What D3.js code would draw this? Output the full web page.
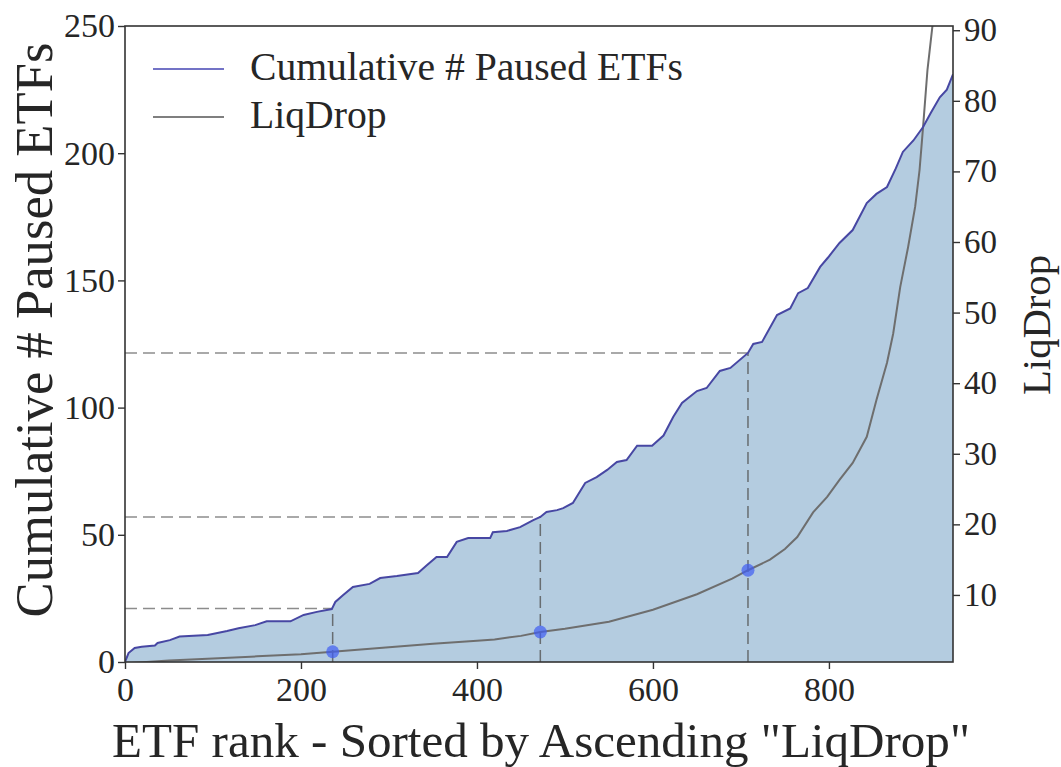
<!DOCTYPE html>
<html><head><meta charset="utf-8">
<script src="https://cdn.jsdelivr.net/npm/d3@7"></script>
<style>
body{margin:0;background:#fff}
text{font-family:"Liberation Serif","DejaVu Serif",serif;fill:#262626}
</style>
</head><body>
<svg id="chart" width="1061" height="767"></svg>
<script>
// ---- data ----
const cumRank = [0,4,11,19,34,37,51,62,94,116,129,148,161,188,203,218,235,239,248,259,278,290,309,333,343,354,366,377,390,415,418,434,449,464,472,479,491,498,509,523,536,548,559,570,582,599,612,623,633,650,661,676,688,708,714,724,741,756,765,776,790,799,812,827,843,854,866,876,884,896,907,916,926,934,941];
const cumPaused = [0,3.5,5.5,6,6.5,7.5,8.6,10,10.6,12.2,13.3,14.5,16,16,18.5,19.7,20.8,23.6,26.3,29.5,30.7,33,33.8,35,38,41.3,41.3,47.2,48.7,48.7,51,51.5,53,55.8,57,59,59.7,60.5,62.5,70.4,72.7,75.5,78.6,79.4,85,85,89,96.3,101.8,106.5,107.7,114.4,115.6,121.5,125,125.8,136.4,139,145,147,155.3,159,164.7,169.8,180.4,184,186.7,194,200.5,205,210.3,216,222,225,231];
const liqRank = [0,50,100,150,200,236,300,350,400,420,450,472,500,550,600,650,690,708,733,750,764,782,798,812,827,843,854,866,873,881,890,898,903,907,912,918,925];
const liqDrop = [0.3,0.7,1.0,1.3,1.6,1.95,2.6,3.1,3.5,3.7,4.2,4.75,5.2,6.2,7.9,10.1,12.3,13.5,15,16.5,18.2,21.7,23.9,26.3,28.7,32.4,37.6,42.9,47,53.6,59.3,65,70.2,76.3,84.4,91,100];
const quartileRanks = [236,472,708];
const quartileCum = [21,57,121.5];
const quartileLiq = [1.95,4.75,13.5];
const xTicks = [0,200,400,600,800];
const yLeftTicks = [0,50,100,150,200,250];
const yRightTicks = [10,20,30,40,50,60,70,80,90];
const legendLabels = ["Cumulative # Paused ETFs","LiqDrop"];
const xTitle = 'ETF rank - Sorted by Ascending "LiqDrop"';
const yLeftTitle = "Cumulative # Paused ETFs";
const yRightTitle = "LiqDrop";

// ---- layout ----
const L=125, R=953, T=26, B=662;
const svg = d3.select("#chart");
const x = d3.scaleLinear().domain([0,941]).range([L,R]);
const yL = d3.scaleLinear().domain([0,250]).range([B,T]);
const yR = d3.scaleLinear().domain([0.5,90.6]).range([B,T]);

svg.append("defs").append("clipPath").attr("id","plot")
  .append("rect").attr("x",L).attr("y",T).attr("width",R-L).attr("height",B-T);

const cum = cumRank.map((r,i)=>({r, v:cumPaused[i]}));
const liq = liqRank.map((r,i)=>({r, v:liqDrop[i]}));

const g = svg.append("g").attr("clip-path","url(#plot)");
g.append("path").datum(cum)
  .attr("d", d3.area().x(d=>x(d.r)).y0(yL(0)).y1(d=>yL(d.v)))
  .attr("fill","#b4cce0");

// dashed guide lines
quartileRanks.forEach((r,i)=>{
  g.append("line").attr("x1",x(0)).attr("x2",x(r)).attr("y1",yL(quartileCum[i])).attr("y2",yL(quartileCum[i]))
    .attr("stroke","#666").attr("stroke-opacity",0.75).attr("stroke-width",1.5).attr("stroke-dasharray","12,6");
  g.append("line").attr("x1",x(r)).attr("x2",x(r)).attr("y1",yL(0)).attr("y2",yL(quartileCum[i]))
    .attr("stroke","#555").attr("stroke-opacity",0.8).attr("stroke-width",1.5).attr("stroke-dasharray","12,6");
});

g.append("path").datum(liq)
  .attr("d", d3.line().x(d=>x(d.r)).y(d=>yR(d.v)))
  .attr("fill","none").attr("stroke","#6e6e6e").attr("stroke-width",2);

g.selectAll("circle.q").data(quartileRanks).join("circle").attr("class","q")
  .attr("cx",d=>x(d)).attr("cy",(d,i)=>yR(quartileLiq[i])).attr("r",6.5)
  .attr("fill","#3f5cf2").attr("fill-opacity",0.7);

g.append("path").datum(cum)
  .attr("d", d3.line().x(d=>x(d.r)).y(d=>yL(d.v)))
  .attr("fill","none").attr("stroke","#4747a3").attr("stroke-width",2);

// frame
svg.append("rect").attr("x",L).attr("y",T).attr("width",R-L).attr("height",B-T)
  .attr("fill","none").attr("stroke","#333").attr("stroke-width",1.6);

// axes
function styleAxis(sel, size){
  sel.select(".domain").remove();
  sel.selectAll(".tick line").attr("stroke","#333").attr("stroke-width",1.4);
  sel.selectAll(".tick text").attr("font-size",size).attr("fill","#262626")
     .style("font-family",'"Liberation Serif","DejaVu Serif",serif');
}
svg.append("g").attr("transform",`translate(0,${B})`)
  .call(d3.axisBottom(x).tickValues(xTicks).tickFormat(d3.format("d")).tickSize(7).tickPadding(8))
  .call(s=>styleAxis(s,34));
svg.append("g").attr("transform",`translate(${L},0)`)
  .call(d3.axisLeft(yL).tickValues(yLeftTicks).tickFormat(d3.format("d")).tickSize(7).tickPadding(3))
  .call(s=>styleAxis(s,34));
svg.append("g").attr("transform",`translate(${R},0)`)
  .call(d3.axisRight(yR).tickValues(yRightTicks).tickFormat(d3.format("d")).tickSize(7).tickPadding(4))
  .call(s=>styleAxis(s,33));

function fit(sel, target){
  const w = sel.node().getComputedTextLength();
  const fs = parseFloat(sel.attr("font-size"));
  sel.attr("font-size", fs*target/w);
  return fs*target/w;
}

// titles
const xt = svg.append("text").attr("x",(112+970)/2).attr("y",757).attr("text-anchor","middle")
  .attr("font-size",44).text(xTitle);
fit(xt, 858);
const ylt = svg.append("text").attr("transform",`translate(52,${(40+620)/2}) rotate(-90)`).attr("text-anchor","middle")
  .attr("font-size",44).text(yLeftTitle);
fit(ylt, 575);
const yrt = svg.append("text").attr("transform",`translate(1050,${(255+395)/2}) rotate(-90)`).attr("text-anchor","middle")
  .attr("font-size",44).text(yRightTitle);
fit(yrt, 140);

// legend
const legendColors = ["#7373c6","#7f7f7f"];
let legendFs = 29;
legendLabels.forEach((t,i)=>{
  const yy = 69 + i*48;
  svg.append("line").attr("x1",153).attr("x2",224).attr("y1",yy).attr("y2",yy)
    .attr("stroke",legendColors[i]).attr("stroke-width",2.2);
  const tx = svg.append("text").attr("x",250).attr("y",yy+11).attr("font-size",legendFs).text(t);
  if(i===0) legendFs = fit(tx, 433);
});
</script>
</body></html>
